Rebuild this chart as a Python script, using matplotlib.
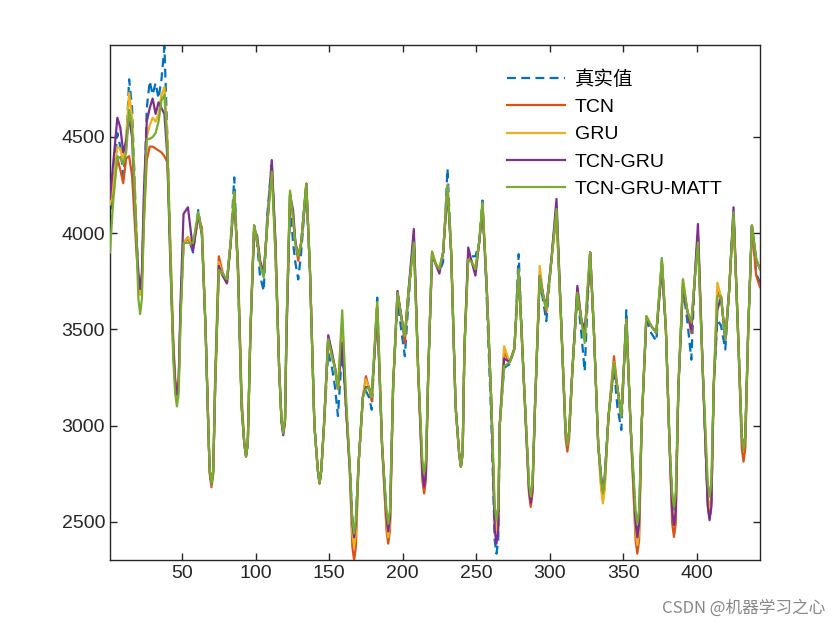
import matplotlib
matplotlib.use("Agg")
import matplotlib.pyplot as plt

plt.rcParams['font.family'] = ['Liberation Sans', 'Noto Sans CJK SC', 'DejaVu Sans']

x_idx = [1, 3, 6, 8, 10, 12, 14, 16, 19, 20.3, 21.5, 22.7, 24, 26, 28, 30, 32, 34, 36, 38, 40, 42, 44,
         45.3, 46.5, 47.7, 49, 51,
         54, 57.5, 61, 63.5, 66, 68, 68.8, 70, 71.2, 72.5, 75, 77.5, 80.5, 83, 85.5, 88, 90.5,
         92.3, 93.5, 94.7, 96.5, 99, 101, 103, 105.5,
         108, 111, 113.5, 116, 117.6, 118.8, 120, 121, 123.4, 125.5, 127, 129, 131, 134.5, 137, 140,
         142.3, 143.5, 144.7, 146.5, 149.4, 152,
         154, 156, 158.9, 161.5, 164, 165.8, 167, 168.2, 170, 173, 175, 177, 179, 182.7, 186,
         189, 190.2, 191.4, 193.5, 196.5, 199, 201.5,
         204, 207.6, 210.5, 213.4, 214.6, 215.8, 217.5, 220, 222.5, 225, 227.5, 230.5, 233, 236,
         238.4, 239.6, 240.8, 242, 244.6, 247, 249.5,
         252, 254.3, 257, 260.4, 262.6, 263.8, 265, 266, 269, 272.8, 276, 278.9, 282,
         285.9, 287.1, 288.3, 290, 293.2, 295.5, 297.7, 301,
         304.6, 308, 310.8, 312, 313.2, 315.5, 318.8, 321.5, 323.8, 325.5, 327.5, 330, 333,
         335, 336.2, 337.4, 340, 343.7, 346, 348.7, 352.1,
         355, 358.4, 359.6, 360.8, 362.5, 365.7, 369.1, 372.5, 376.3, 379, 381.5,
         383.3, 384.5, 385.7, 387.5, 390.6, 393.5, 396.3, 398.5,
         400.8, 404, 407.5, 408.7, 409.9, 411.5, 414, 416.5, 419.4, 422, 425, 428,
         430.6, 431.8, 433, 435, 437.5, 440.4, 443]

y_true = [4050, 4250, 4520, 4450, 4300, 4450, 4800, 4650, 4000, 3780, 3700, 3780, 4100, 4650, 4790, 4720, 4780,
          4700, 4800, 4970, 4500, 3900, 3400,
          3220, 3150, 3220, 3600, 3950,
          3980, 3900, 4120, 4000, 3500, 2950, 2770, 2700, 2770, 3200, 3820, 3790, 3760, 3950, 4290, 3800, 3100,
          2910, 2840, 2910, 3500, 4040, 3950, 3780, 3700,
          4100, 4370, 3900, 3300, 3030, 2960, 3030, 3500, 4150, 3950, 3850, 3760, 3900, 4240, 3800, 3000,
          2770, 2700, 2770, 3000, 3380, 3300,
          3200, 3050, 3400, 3100, 2800, 2520, 2450, 2520, 2800, 3150, 3180, 3150, 3083, 3665, 2900,
          2540, 2470, 2540, 3200, 3650, 3500, 3361,
          3650, 3990, 3300, 2770, 2700, 2770, 3300, 3880, 3840, 3800, 3850, 4335, 3900, 3100,
          2857, 2787, 2857, 3400, 3880, 3880, 3880,
          3950, 4170, 3700, 3000, 2405, 2335, 2405, 3000, 3300, 3320, 3400, 3891, 3300,
          2690, 2620, 2690, 3100, 3760, 3650, 3543, 3850,
          4140, 3500, 2970, 2900, 2970, 3300, 3680, 3480, 3283, 3600, 3900, 3500, 2900,
          2730, 2660, 2730, 3050, 3300, 3100, 2978, 3600,
          3000, 2520, 2450, 2520, 3000, 3550, 3480, 3440, 3870, 3500, 2900,
          2630, 2560, 2630, 3200, 3720, 3550, 3343, 3750,
          3990, 3300, 2590, 2520, 2590, 3200, 3550, 3520, 3396, 3700, 4120, 3500,
          2944, 2874, 2944, 3500, 4039, 3790, 3743]

y_tcn = [4150, 4200, 4390, 4330, 4260, 4390, 4400, 4300, 3900, 3770, 3700, 3770, 4050, 4380, 4450, 4450, 4440,
         4430, 4420, 4400, 4370, 3950, 3450,
         3240, 3170, 3240, 3600, 3950,
         3970, 3920, 4080, 4030, 3500, 2950, 2750, 2680, 2750, 3250, 3880, 3800, 3740, 3950, 4200, 3850, 3150,
         2910, 2840, 2910, 3500, 4040, 3960, 3850, 3780,
         4060, 4350, 3950, 3300, 3030, 2960, 3030, 3500, 4200, 4080, 3950, 3857, 3950, 4257, 3800, 3000,
         2770, 2700, 2770, 3000, 3460, 3360,
         3300, 3190, 3500, 3100, 2780, 2370, 2300, 2370, 2800, 3150, 3257, 3200, 3126, 3620, 2900,
         2457, 2387, 2457, 3200, 3690, 3570, 3430,
         3700, 3980, 3300, 2718, 2648, 2718, 3300, 3905, 3840, 3813, 3900, 4250, 3900, 3100,
         2857, 2787, 2857, 3400, 3900, 3850, 3813,
         3950, 4140, 3750, 3100, 2520, 2450, 2520, 3000, 3380, 3330, 3400, 3790, 3300,
         2648, 2578, 2648, 3100, 3778, 3680, 3590, 3850,
         4100, 3500, 2935, 2865, 2935, 3300, 3700, 3550, 3450, 3650, 3900, 3500, 2900,
         2690, 2620, 2690, 3050, 3361, 3200, 3048, 3552,
         3000, 2405, 2335, 2405, 3000, 3569, 3517, 3483, 3845, 3500, 2900,
         2492, 2422, 2492, 3200, 3740, 3600, 3480, 3750,
         3990, 3300, 2590, 2520, 2590, 3200, 3700, 3670, 3448, 3700, 4100, 3500,
         2883, 2813, 2883, 3500, 4039, 3780, 3720]

y_gru = [4150, 4250, 4450, 4440, 4370, 4500, 4730, 4600, 4000, 3760, 3680, 3760, 4150, 4500, 4560, 4600, 4580,
         4620, 4720, 4760, 4500, 3900, 3400,
         3220, 3150, 3220, 3600, 3950,
         3980, 3930, 4100, 4000, 3500, 2950, 2760, 2690, 2760, 3200, 3850, 3790, 3740, 3950, 4210, 3800, 3100,
         2910, 2840, 2910, 3500, 4030, 3980, 3850, 3780,
         4050, 4340, 3900, 3300, 3030, 2960, 3030, 3500, 4210, 4080, 3950, 3880, 3950, 4257, 3800, 3000,
         2770, 2700, 2770, 3000, 3460, 3360,
         3300, 3190, 3550, 3100, 2780, 2440, 2370, 2440, 2800, 3150, 3240, 3200, 3150, 3640, 2900,
         2490, 2420, 2490, 3200, 3690, 3570, 3465,
         3700, 3960, 3300, 2770, 2700, 2770, 3300, 3900, 3840, 3813, 3900, 4248, 3900, 3100,
         2857, 2787, 2857, 3400, 3880, 3850, 3813,
         3950, 4150, 3750, 3100, 2520, 2450, 2520, 3000, 3413, 3330, 3400, 3813, 3300,
         2680, 2610, 2680, 3100, 3830, 3680, 3604, 3850,
         4120, 3500, 2970, 2900, 2970, 3300, 3710, 3550, 3450, 3650, 3900, 3500, 2900,
         2666, 2596, 2666, 3050, 3330, 3200, 3048, 3552,
         3000, 2450, 2380, 2450, 3000, 3569, 3517, 3483, 3865, 3500, 2900,
         2570, 2500, 2570, 3200, 3760, 3600, 3535, 3750,
         3990, 3300, 2630, 2560, 2630, 3200, 3743, 3670, 3448, 3700, 4100, 3500,
         2944, 2874, 2944, 3500, 4039, 3865, 3813]

y_tcngru = [4180, 4350, 4600, 4550, 4420, 4480, 4600, 4500, 3950, 3790, 3710, 3790, 4200, 4580, 4650, 4700,
            4620, 4680, 4650, 4620, 4400, 3850, 3400,
            3230, 3160, 3230, 3650, 4100,
            4135, 3910, 4100, 3990, 3500, 2950, 2765, 2695, 2765, 3200, 3830, 3780, 3740, 3940, 4190, 3820, 3100,
            2910, 2840, 2910, 3480, 4010, 3990, 3860, 3790,
            4050, 4380, 3950, 3300, 3020, 2950, 3020, 3450, 4200, 4120, 3960, 3880, 3950, 4257, 3800, 3000,
            2770, 2700, 2770, 3000, 3470, 3380,
            3300, 3200, 3430, 3100, 2780, 2490, 2420, 2490, 2800, 3150, 3200, 3200, 3160, 3600, 2900,
            2520, 2450, 2520, 3200, 3700, 3570, 3465,
            3700, 4022, 3300, 2753, 2683, 2753, 3300, 3880, 3840, 3790, 3900, 4220, 3900, 3100,
            2857, 2787, 2857, 3400, 3926, 3850, 3780,
            3950, 4130, 3750, 3100, 2457, 2387, 2457, 3000, 3350, 3330, 3400, 3813, 3300,
            2670, 2600, 2670, 3100, 3778, 3680, 3620, 3850,
            4178, 3500, 2970, 2900, 2970, 3300, 3726, 3550, 3500, 3650, 3900, 3500, 2900,
            2730, 2660, 2730, 3050, 3300, 3200, 3048, 3552,
            3000, 2490, 2420, 2490, 3000, 3550, 3517, 3483, 3820, 3500, 2900,
            2553, 2483, 2553, 3200, 3720, 3600, 3500, 3750,
            4048, 3300, 2579, 2509, 2579, 3200, 3600, 3670, 3448, 3700, 4135, 3500,
            2944, 2874, 2944, 3500, 4039, 3865, 3813]

y_matt = [3900, 4150, 4400, 4390, 4360, 4420, 4640, 4550, 3950, 3660, 3580, 3660, 4050, 4490, 4490, 4500, 4520,
          4580, 4690, 4720, 4450, 3900, 3350,
          3170, 3100, 3170, 3550, 3950,
          3950, 3950, 4110, 4000, 3500, 2950, 2770, 2700, 2770, 3200, 3810, 3790, 3760, 3950, 4215, 3800, 3100,
          2910, 2840, 2910, 3500, 4040, 3970, 3840, 3770,
          4050, 4320, 3900, 3300, 3030, 2960, 3030, 3500, 4222, 4080, 3950, 3880, 3950, 4257, 3800, 3000,
          2770, 2700, 2770, 3000, 3450, 3360,
          3300, 3190, 3600, 3150, 2800, 2510, 2440, 2510, 2800, 3150, 3190, 3200, 3150, 3640, 2900,
          2560, 2490, 2560, 3200, 3690, 3570, 3465,
          3700, 3952, 3300, 2822, 2752, 2822, 3300, 3900, 3840, 3813, 3900, 4248, 3900, 3100,
          2857, 2787, 2857, 3400, 3865, 3850, 3813,
          3950, 4161, 3750, 3100, 2579, 2509, 2579, 3000, 3309, 3330, 3400, 3813, 3300,
          2701, 2631, 2701, 3100, 3778, 3680, 3604, 3850,
          4126, 3500, 2970, 2900, 2970, 3300, 3691, 3550, 3430, 3700, 3900, 3500, 2900,
          2718, 2648, 2718, 3050, 3326, 3200, 3048, 3552,
          3000, 2561, 2491, 2561, 3000, 3569, 3517, 3483, 3865, 3500, 2900,
          2648, 2578, 2648, 3200, 3761, 3600, 3535, 3750,
          3952, 3300, 2701, 2631, 2701, 3200, 3674, 3670, 3448, 3700, 4109, 3500,
          2944, 2874, 2944, 3500, 4039, 3865, 3813]

labels = ['真实值', 'TCN', 'GRU', 'TCN-GRU', 'TCN-GRU-MATT']
colors = ['#0072BD', '#D95319', '#EDB120', '#7E2F8E', '#77AC30']
x_ticks = [50, 100, 150, 200, 250, 300, 350, 400]
y_ticks = [2500, 3000, 3500, 4000, 4500]

fig = plt.figure(figsize=(8.4, 6.3), dpi=100)
ax = fig.add_axes([110/840, 1-560/630, 650/840, 515/630])

series = [y_true, y_tcn, y_gru, y_tcngru, y_matt]
for i, (ys, lab, c) in enumerate(zip(series, labels, colors)):
    if i == 0:
        ax.plot(x_idx, ys, linestyle=(0, (4.0, 2.4)), color=c, lw=1.6, label=lab, zorder=2)
    else:
        ax.plot(x_idx, ys, linestyle='-', color=c, lw=1.6, label=lab, zorder=3 + i)

ax.set_xlim(1, 443)
ax.set_ylim(2302, 4978)
ax.set_xticks(x_ticks)
ax.set_yticks(y_ticks)
ax.tick_params(direction='in', top=True, right=True, length=5, width=1, colors='#262626',
               labelsize=14, labelcolor='#262626')
for s in ax.spines.values():
    s.set_color('#262626')
    s.set_linewidth(1.0)

leg = ax.legend(loc='upper left', bbox_to_anchor=(507/840, 1-70/630), bbox_transform=fig.transFigure,
                frameon=False, fontsize=14, handlelength=3.0, handletextpad=0.5, labelspacing=0.5,
                borderaxespad=0, borderpad=0)

fig.text(825/840, 1-608/630, 'CSDN @机器学习之心', ha='right', va='center', fontsize=12, color='#888888',
         family=['Noto Sans CJK SC', 'DejaVu Sans'])

fig.savefig('out.png', dpi=100)
